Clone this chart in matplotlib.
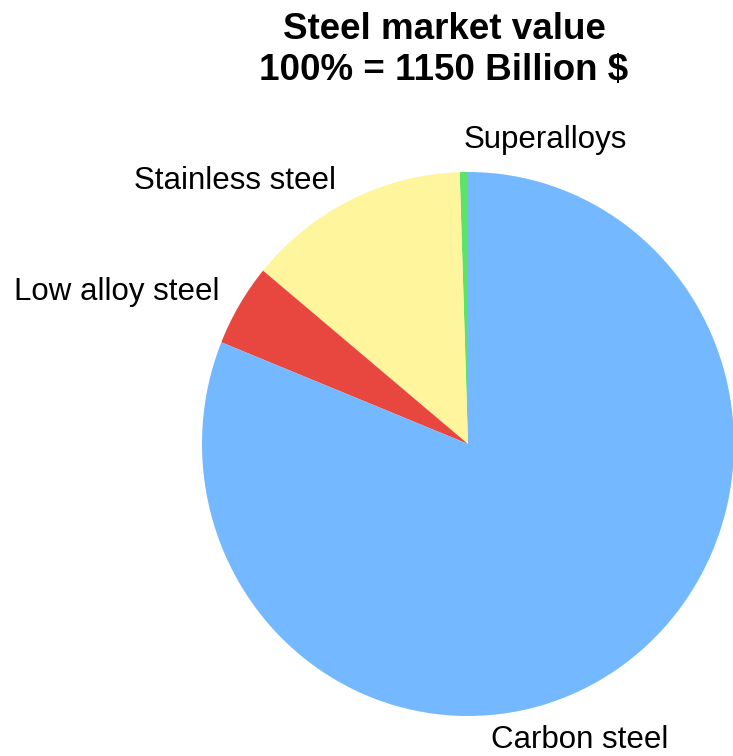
import matplotlib
matplotlib.use("Agg")
import matplotlib.pyplot as plt

plt.rcParams['font.family'] = ['Liberation Sans', 'DejaVu Sans']

# share of 1150 billion $ market value (%)
segments = ['Superalloys', 'Stainless steel', 'Low alloy steel', 'Carbon steel']
shares = [0.5, 13.5, 4.9, 81.1]
colors = ['#5de26a', '#fff59d', '#e8473f', '#74b9ff']

# label anchor points, in units of pie radius
label_pos = [(0.29, 1.117), (-0.876, 0.966), (-1.32, 0.558), (0.42, -1.088)]

fig = plt.figure(figsize=(7.33, 7.56), dpi=100)
ax = fig.add_axes([0, 0, 1, 1])

wedges, texts = ax.pie(shares, labels=segments, colors=colors, startangle=90,
                       counterclock=True, radius=1.0,
                       wedgeprops=dict(linewidth=0),
                       textprops=dict(fontsize=22.5, color='black'))
for t, (x, y) in zip(texts, label_pos):
    t.set_position((x, y))
    t.set_ha('center')
    t.set_va('center')

# slightly wider than tall, as in the source picture
ax.set_aspect('auto')
ax.set_xlim(-468 / 266, 265 / 266)
ax.set_ylim(-312 / 272, 444 / 272)
ax.axis('off')

fig.text(444 / 733, 1 - 50 / 756, "Steel market value\n100% = 1150 Billion $",
         ha='center', va='center', fontsize=26.5, fontweight='bold',
         linespacing=1.25)

fig.savefig('out.png', dpi=100)
